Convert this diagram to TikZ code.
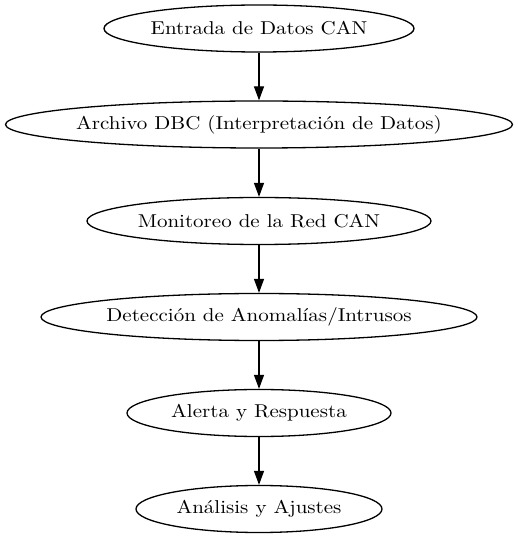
\documentclass[tikz,border=0pt]{standalone}
\usepackage{graphicx}
\usetikzlibrary{shapes.geometric,arrows.meta}
\newcommand{\flowlabel}[1]{\makebox[0pt]{\scalebox{2.1}[1.86]{\fontsize{10}{12}\selectfont #1}}}
\begin{document}
\begin{tikzpicture}[x=1pt,y=1pt,
  flownode/.style={draw=black,line width=1.3pt,ellipse,inner sep=0pt,minimum height=47pt},
  flowarrow/.style={draw=black,line width=1.3pt,-{Triangle[length=14pt,width=10pt]}}]
\useasboundingbox (0,0) rectangle (518,539);
\node[flownode,minimum width=310pt] (n1) at (259,510.5) {\flowlabel{Entrada de Datos CAN}};
\node[flownode,minimum width=507pt] (n2) at (259,414.5) {\flowlabel{Archivo DBC (Interpretación de Datos)}};
\node[flownode,minimum width=344pt] (n3) at (259,318) {\flowlabel{Monitoreo de la Red CAN}};
\node[flownode,minimum width=436pt] (n4) at (259,222) {\flowlabel{Detección de Anomalías/Intrusos}};
\node[flownode,minimum width=264pt] (n5) at (259,126) {\flowlabel{Alerta y Respuesta}};
\node[flownode,minimum width=246pt] (n6) at (259,30) {\flowlabel{Análisis y Ajustes}};
\draw[flowarrow] (n1) -- (n2);
\draw[flowarrow] (n2) -- (n3);
\draw[flowarrow] (n3) -- (n4);
\draw[flowarrow] (n4) -- (n5);
\draw[flowarrow] (n5) -- (n6);
\end{tikzpicture}
\end{document}
